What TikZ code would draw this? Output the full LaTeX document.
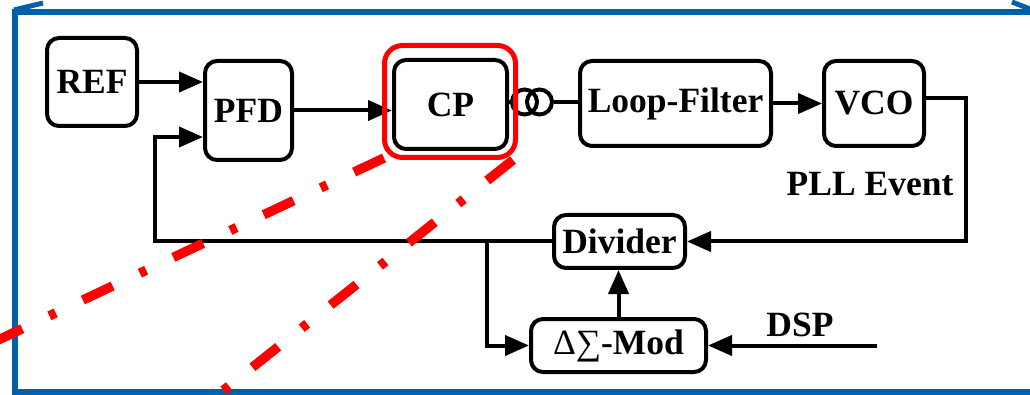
\documentclass[tikz,border=0pt]{standalone}
\usepackage{fontspec}
\setmainfont{Liberation Serif}
\usetikzlibrary{arrows.meta}
\definecolor{frameblue}{RGB}{0,96,170}
\definecolor{hlred}{RGB}{255,0,0}
\begin{document}
\begin{tikzpicture}[x=1pt,y=-1pt,
  txt/.style={font=\fontsize{35.5}{42}\selectfont\bfseries},
  blk/.style={txt, draw, line width=4pt, rounded corners=12pt, inner sep=0pt},
  wire/.style={line width=4pt},
  arr/.style={wire, -{Triangle[length=24pt 0,width=20pt 0]}},
  coil/.style={circle, draw, line width=4pt, minimum size=25pt, inner sep=0pt},
  zoomline/.style={hlred, line width=9.5pt, dash pattern=on 33pt off 30pt on 7pt off 30pt},
  frame/.style={frameblue, line width=6pt}]
\useasboundingbox (0,0) rectangle (1030,395);

% blocks of the loop
\node[blk, minimum width=90pt, minimum height=88pt]  (ref) at (92,82)      {REF};
\node[blk, minimum width=87pt, minimum height=99pt]  (pfd) at (248.5,110.5) {PFD};
\node[blk, minimum width=113pt, minimum height=89pt] (cp)  at (450.5,104.5) {CP};
\node[blk, minimum width=191pt, minimum height=85pt] (lf)  at (675.5,103.5) {Loop-Filter};
\node[blk, minimum width=100pt, minimum height=85pt] (vco) at (874,103.5)   {VCO};
\node[blk, minimum width=131pt, minimum height=53pt] (div) at (619.5,241.5) {Divider};
\node[blk, minimum width=175pt, minimum height=53pt] (mod) at (618.5,345.5) {{\mdseries Δ∑}-Mod};

% labels
\node[txt, anchor=base, inner sep=0pt] (ev)  at (870,196) {PLL Event};
\node[txt, anchor=base, inner sep=0pt] (dspl) at (800,336) {DSP};

% coil symbol after the charge pump
\node[coil] (c1) at (524.5,102) {};
\node[coil] (c2) at (539.5,102) {};

% forward path
\draw[arr] (ref.east) -- (ref.east -| pfd.west);
\draw[arr] (pfd.east) -- (pfd.east -| cp.west);
\draw[wire] (cp.east |- c1.west) -- (c1.west);
\draw[wire] (c2.east) -- (c2.east -| lf.west);
\draw[arr] (lf.east) -- (lf.east -| vco.west);

% feedback path
\coordinate (vo) at (966,98);
\draw[arr] (vco.east |- vo) -- (vo) |- (div.east);
\coordinate (fb) at (155,137);
\draw[arr] (div.west) -| (fb) -- (fb -| pfd.west);
\coordinate (br) at (487,241.5);
\draw[arr] (br) |- (mod.west);
\draw[arr] (mod.north) -- (mod.north |- div.south);
\coordinate (dsp) at (877,345.5);
\draw[arr] (dsp) -- (dsp -| mod.east);

% highlight of the charge pump
\node[draw=hlred, line width=5pt, rounded corners=18pt, minimum width=131pt,
      minimum height=112pt, inner sep=0pt] (cphl) at (450,101.5) {};

% surrounding frame
\draw[frame] (1030,12.5) -- (15,12.5) -- (15,395);
\draw[frame] (15,392) -- (1030,392);
\draw[frameblue, line width=5pt] (14,10) -- (43,3);
\draw[frameblue, line width=5pt] (1012,2) -- (1030,9);

% zoom lines from the highlighted block
\begin{scope}
\clip (0,0) rectangle (1030,395);
\coordinate (z1) at (384,158);
\coordinate (z1e) at (-40,358);
\coordinate (z2) at (513,160);
\coordinate (z2e) at (200,409);
\draw[zoomline] (z1) -- (z1e);
\draw[zoomline] (z2) -- (z2e);
\end{scope}
\end{tikzpicture}
\end{document}
